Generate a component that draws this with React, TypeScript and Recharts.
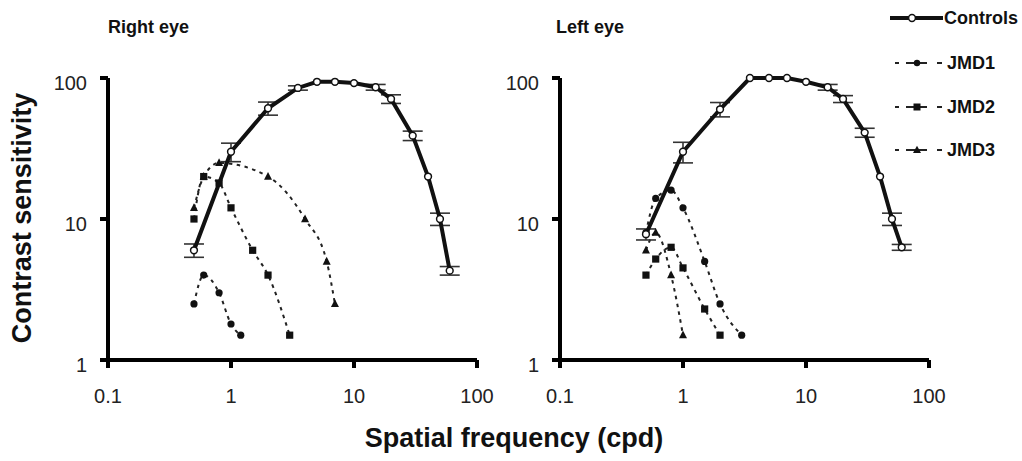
import React from 'react';
import { LineChart, Line, XAxis, YAxis, ErrorBar } from 'recharts';

// Axis ticks
const freqTicks = [0.1, 1, 10, 100];
const sensTicks = [1, 10, 100];

// Controls (shared frequencies)
const controlFreq = [0.5, 1, 2, 3.5, 5, 7, 10, 15, 20, 30, 40, 50, 60];
const rightEyeControlSens = [6, 30, 61, 85, 94, 94, 92, 86, 71, 39, 20, 10, 4.3];
const rightEyeControlErr = [0.65, 4.5, 6.5, 3, null, null, null, 4, 5, 3, null, 1, 0.3];
const leftEyeControlSens = [7.8, 30, 60, 100, 100, 100, 94, 86, 71, 41, 20, 10, 6.3];
const leftEyeControlErr = [0.7, 5, 7, null, null, null, null, 4, 4, 3, null, 1, 0.3];

// Right eye patients
const rightJmd1Freq = [0.5, 0.6, 0.8, 1, 1.2];
const rightJmd1Sens = [2.5, 4, 3, 1.8, 1.5];
const rightJmd2Freq = [0.5, 0.6, 0.8, 1, 1.5, 2, 3];
const rightJmd2Sens = [10, 20, 18, 12, 6, 4, 1.5];
const rightJmd3Freq = [0.5, 0.6, 0.8, 2, 4, 6, 7];
const rightJmd3Sens = [12, 20, 25, 20, 10, 5, 2.5];

// Left eye patients
const leftJmd1Freq = [0.5, 0.6, 0.8, 1, 1.5, 2, 3];
const leftJmd1Sens = [8, 14, 16, 12, 5, 2.5, 1.5];
const leftJmd2Freq = [0.5, 0.6, 0.8, 1, 1.5, 2];
const leftJmd2Sens = [4, 5.2, 6.3, 4.5, 2.3, 1.5];
const leftJmd3Freq = [0.5, 0.6, 0.8, 1];
const leftJmd3Sens = [6, 8, 4, 1.5];

const zip = (fs: number[], ss: number[], es?: (number | null)[]) =>
  fs.map((f, i) => (es ? { f, s: ss[i], e: es[i] } : { f, s: ss[i] }));

const FONT = '"Liberation Sans", Arial, Helvetica, sans-serif';
const INK = '#111';
const DASH_INK = '#222';

const CircleDot = (p: any) => {
  if (p.cx == null || p.cy == null) return <g key={p.index} />;
  return <circle key={`c${p.index}`} cx={p.cx} cy={p.cy} r={3.6} fill={INK} />;
};
const SquareDot = (p: any) => {
  if (p.cx == null || p.cy == null) return <g key={p.index} />;
  return <rect key={`s${p.index}`} x={p.cx - 3.6} y={p.cy - 3.6} width={7.2} height={7.2} fill={INK} />;
};
const TriDot = (p: any) => {
  if (p.cx == null || p.cy == null) return <g key={p.index} />;
  const { cx, cy } = p;
  return (
    <polygon
      key={`t${p.index}`}
      points={`${cx},${cy - 4.6} ${cx + 4},${cy + 3.2} ${cx - 4},${cy + 3.2}`}
      fill={INK}
    />
  );
};

const XTick = (p: any) => (
  <text x={p.x} y={p.y} dy="0.71em" textAnchor="middle" fontSize={20} fill="#222" fontFamily={FONT}>
    {String(p.payload.value)}
  </text>
);
const YTick = (p: any) => (
  <text x={p.x} y={p.y + 5} textAnchor="end" dominantBaseline="central" fontSize={20} fill="#222" fontFamily={FONT}>
    {String(p.payload.value)}
  </text>
);

type PanelProps = {
  width: number;
  right: number;
  control: { f: number; s: number; e?: number | null }[];
  j1: { f: number; s: number }[];
  j2: { f: number; s: number }[];
  j3: { f: number; s: number }[];
};

function Panel({ width, right, control, j1, j2, j3 }: PanelProps) {
  const dashProps = {
    stroke: DASH_INK,
    strokeWidth: 2,
    strokeDasharray: '3.5 4.5',
    type: 'monotone' as const,
    isAnimationActive: false,
    activeDot: false as const,
  };
  return (
    <LineChart width={width} height={461} margin={{ top: 78, right, bottom: 61, left: 0 }}>
      <XAxis
        type="number"
        dataKey="f"
        scale="log"
        domain={[0.1, 100]}
        ticks={freqTicks}
        interval={0}
        height={40}
        tickSize={8}
        tickMargin={21}
        axisLine={{ stroke: '#000', strokeWidth: 4 }}
        tickLine={{ stroke: '#000', strokeWidth: 4 }}
        tick={<XTick />}
      />
      <YAxis
        type="number"
        dataKey="s"
        scale="log"
        domain={[1, 100]}
        ticks={sensTicks}
        interval={0}
        width={108}
        tickSize={8}
        tickMargin={13}
        axisLine={{ stroke: '#000', strokeWidth: 4 }}
        tickLine={{ stroke: '#000', strokeWidth: 4 }}
        tick={<YTick />}
      />
      <Line data={j1} dataKey="s" {...dashProps} dot={CircleDot} />
      <Line data={j2} dataKey="s" {...dashProps} dot={SquareDot} />
      <Line data={j3} dataKey="s" {...dashProps} dot={TriDot} />
      <Line
        data={control}
        dataKey="s"
        type="linear"
        stroke={INK}
        strokeWidth={4}
        isAnimationActive={false}
        activeDot={false}
        dot={{ r: 3.4, fill: '#fff', stroke: INK, strokeWidth: 1.5 }}
      >
        <ErrorBar dataKey="e" direction="y" width={10} stroke="#333" strokeWidth={1.6} isAnimationActive={false} />
      </Line>
    </LineChart>
  );
}

const legendItems = [
  { name: 'JMD1', y: 63, shape: 'circle' },
  { name: 'JMD2', y: 107, shape: 'square' },
  { name: 'JMD3', y: 150, shape: 'triangle' },
];

export default function App() {
  return (
    <div
      style={{
        position: 'absolute',
        left: 0,
        top: 0,
        width: 1022,
        height: 461,
        background: '#fff',
        overflow: 'hidden',
        fontFamily: FONT,
      }}
    >
      <div style={{ position: 'absolute', left: 0, top: 0 }}>
        <Panel
          width={500}
          right={23}
          control={zip(controlFreq, rightEyeControlSens, rightEyeControlErr)}
          j1={zip(rightJmd1Freq, rightJmd1Sens)}
          j2={zip(rightJmd2Freq, rightJmd2Sens)}
          j3={zip(rightJmd3Freq, rightJmd3Sens)}
        />
      </div>
      <div style={{ position: 'absolute', left: 452, top: 0 }}>
        <Panel
          width={570}
          right={93}
          control={zip(controlFreq, leftEyeControlSens, leftEyeControlErr)}
          j1={zip(leftJmd1Freq, leftJmd1Sens)}
          j2={zip(leftJmd2Freq, leftJmd2Sens)}
          j3={zip(leftJmd3Freq, leftJmd3Sens)}
        />
      </div>
      <svg
        width={1022}
        height={461}
        style={{ position: 'absolute', left: 0, top: 0, pointerEvents: 'none' }}
        fontFamily={FONT}
      >
        <text x={108} y={33} fontSize={18} fontWeight="bold" fill="#111">Right eye</text>
        <text x={556} y={33} fontSize={18} fontWeight="bold" fill="#111">Left eye</text>
        <text
          x={31}
          y={218}
          transform="rotate(-90, 31, 218)"
          textAnchor="middle"
          fontSize={27}
          fontWeight="bold"
          fill="#111"
        >
          Contrast sensitivity
        </text>
        <text x={514} y={447} textAnchor="middle" fontSize={27} fontWeight="bold" fill="#111">
          Spatial frequency (cpd)
        </text>
        {/* legend */}
        <line x1={890} y1={18} x2={943} y2={18} stroke={INK} strokeWidth={4} />
        <circle cx={912} cy={18} r={3.4} fill="#fff" stroke={INK} strokeWidth={1.5} />
        <text x={944} y={18} dominantBaseline="central" fontSize={18} fontWeight="bold" fill="#111">Controls</text>
        {legendItems.map((it) => (
          <g key={it.name}>
            <line x1={895} y1={it.y} x2={899} y2={it.y} stroke={DASH_INK} strokeWidth={2} />
            <line x1={906} y1={it.y} x2={927} y2={it.y} stroke={DASH_INK} strokeWidth={2} />
            <line x1={937} y1={it.y} x2={942} y2={it.y} stroke={DASH_INK} strokeWidth={2} />
            {it.shape === 'circle' && <circle cx={917} cy={it.y} r={3.2} fill={INK} />}
            {it.shape === 'square' && <rect x={913.5} y={it.y - 3.5} width={7} height={7} fill={INK} />}
            {it.shape === 'triangle' && (
              <polygon points={`917,${it.y - 4.2} 921,${it.y + 3} 913,${it.y + 3}`} fill={INK} />
            )}
            <text x={947} y={it.y} dominantBaseline="central" fontSize={18} fontWeight="bold" fill="#111">
              {it.name}
            </text>
          </g>
        ))}
      </svg>
    </div>
  );
}
